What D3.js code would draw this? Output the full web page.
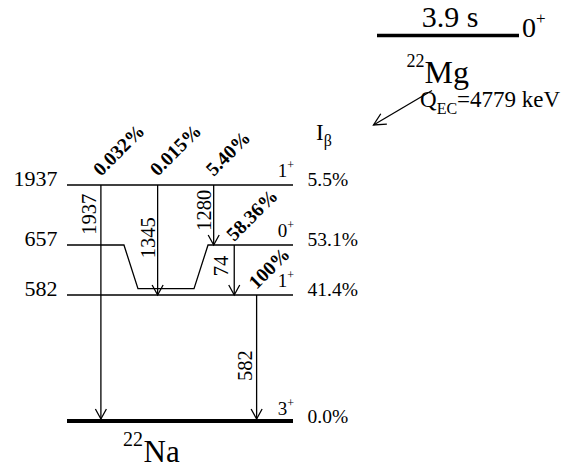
<!DOCTYPE html>
<html>
<head>
<meta charset="utf-8">
<script src="https://cdn.jsdelivr.net/npm/d3@7"></script>
<style>
  html, body { margin: 0; padding: 0; background: #fff; }
  svg { display: block; }
  svg text { font-family: "Liberation Serif", "Times New Roman", Times, serif; }
</style>
</head>
<body>
<svg id="chart" width="583" height="467"></svg>
<script>
// Daughter levels of 22Na: energy (keV), spin, parity, beta feeding
const levelEnergies = [1937, 657, 582, 0];
const levelSpins = ["1", "0", "1", "3"];
const levelParities = ["+", "+", "+", "+"];
const betaFeeding = ["5.5%", "53.1%", "41.4%", "0.0%"];

// Gamma transitions: initial level, final level, energy label, branching
const gammaFrom = [1937, 1937, 1937, 657, 582];
const gammaTo = [0, 582, 657, 582, 0];
const gammaEnergies = ["1937", "1345", "1280", "74", "582"];
const gammaIntensities = ["0.032%", "0.015%", "5.40%", "58.36%", "100%"];

// Parent nucleus
const parentMass = "22";
const parentSymbol = "Mg";
const parentHalfLife = "3.9 s";
const parentSpin = "0";
const parentParity = "+";
const qValue = 4779;
const daughterMass = "22";
const daughterSymbol = "Na";

// ---- layout ----
const FONT = "Liberation Serif";
const svg = d3.select("#chart").attr("font-family", FONT);

// schematic (non-uniform) energy axis
const y = d3.scaleLinear().domain([0, 582, 657, 1937]).range([421, 295, 245, 185]);
// horizontal position along the level lines
const x = d3.scaleLinear().domain([0, 1]).range([67, 293]);

// column of each gamma arrow, where its energy label sits along it, and the label gap
const gammaColumn = [0.150, 0.401, 0.649, 0.740, 0.839];
const gammaLabelAt = [0.125, 0.48, 0.42, 0.42, 0.57];
const gammaLabelGap = [4.5, 3, 2.5, 6, 5];
const intensityLift = [8, 8, 8, 3, 5];

const black = "#000";

function arrowHead(g, tx, ty, ux, uy, len, half, width) {
  const nx = -uy, ny = ux;
  const bx = tx - ux * len, by = ty - uy * len;
  g.append("path")
    .attr("d", d3.line()([[bx + nx * half, by + ny * half], [tx, ty], [bx - nx * half, by - ny * half]]))
    .attr("fill", "none").attr("stroke", black).attr("stroke-width", width)
    .attr("stroke-linejoin", "miter");
}

function addText(parent) {
  return parent.append("text").attr("font-family", FONT).attr("fill", black);
}

const g = svg.append("g");

// level lines
const line = d3.line();
levelEnergies.forEach((e) => {
  let pts;
  if (e === 657) {
    // this level line dips down beneath the 1345 keV arrow
    const dip = y(582) - 6.3;
    pts = [[x(0), y(e)], [x(0.252), y(e)], [x(0.314), dip], [x(0.562), dip], [x(0.624), y(e)], [x(1), y(e)]];
  } else {
    pts = [[x(0), y(e)], [x(1), y(e)]];
  }
  g.append("path")
    .attr("d", line(pts))
    .attr("fill", "none")
    .attr("stroke", black)
    .attr("stroke-width", e === 0 ? 4 : 1.3);
});

// level energy labels (ground level left unlabelled)
levelEnergies.forEach((e) => {
  if (e === 0) return;
  addText(g)
    .attr("x", 57.5).attr("y", y(e) + 1)
    .attr("text-anchor", "end")
    .attr("font-size", 22)
    .text(String(e));
});

// spin-parity labels
levelEnergies.forEach((e, i) => {
  const t = addText(g)
    .attr("x", 294).attr("y", y(e) - (e === 0 ? 6.5 : 8.5))
    .attr("text-anchor", "end")
    .attr("font-size", 19);
  t.append("tspan").text(levelSpins[i]);
  t.append("tspan").attr("font-size", 12).attr("dy", -8).text(levelParities[i]);
});

// beta feeding column
const ib = addText(g).attr("x", 316).attr("y", 140).attr("font-size", 23);
ib.append("tspan").text("I");
ib.append("tspan").attr("font-size", 16).attr("dy", 6).text("β");

levelEnergies.forEach((e, i) => {
  addText(g)
    .attr("x", 307.5).attr("y", y(e) + (e === 0 ? 1.5 : 1))
    .attr("font-size", 19.5)
    .text(betaFeeding[i]);
});

// gamma arrows
gammaFrom.forEach((from, i) => {
  const to = gammaTo[i];
  const gx = x(gammaColumn[i]);
  const y0 = y(from);
  const y1 = to === 0 ? y(0) - 2 : y(to);
  g.append("line")
    .attr("x1", gx).attr("x2", gx)
    .attr("y1", y0).attr("y2", y1)
    .attr("stroke", black).attr("stroke-width", 1.3);
  arrowHead(g, gx, y1, 0, 1, 10, 5.5, 1.3);

  // energy label, written upward alongside the arrow
  const ly = y0 + (y1 - y0) * gammaLabelAt[i];
  addText(g.append("g").attr("transform", `translate(${gx - gammaLabelGap[i]},${ly}) rotate(-90)`))
    .attr("text-anchor", "middle")
    .attr("font-size", 20.5)
    .text(gammaEnergies[i]);

  // branching intensity, bold and slanted at the arrow's origin
  addText(g.append("g").attr("transform", `translate(${gx},${y0 - intensityLift[i]}) rotate(-45)`))
    .attr("font-size", 19.5)
    .attr("font-weight", "bold")
    .text(gammaIntensities[i]);
});

// daughter name
const dn = addText(g).attr("x", 123).attr("y", 461.5);
dn.append("tspan").attr("font-size", 20).attr("dy", -16).text(daughterMass);
dn.append("tspan").attr("font-size", 31).attr("dx", 0.5).attr("dy", 16).text(daughterSymbol);

// parent level
g.append("line")
  .attr("x1", 377).attr("x2", 519)
  .attr("y1", 35.5).attr("y2", 35.5)
  .attr("stroke", black).attr("stroke-width", 3.5);

addText(g)
  .attr("x", 450).attr("y", 26.5)
  .attr("text-anchor", "middle")
  .attr("font-size", 30)
  .text(parentHalfLife);

const ps = addText(g).attr("x", 522).attr("y", 37).attr("font-size", 28);
ps.append("tspan").text(parentSpin);
ps.append("tspan").attr("font-size", 17).attr("dy", -13).text(parentParity);

const pn = addText(g).attr("x", 406.5).attr("y", 83);
pn.append("tspan").attr("font-size", 18).attr("dy", -16).text(parentMass);
pn.append("tspan").attr("font-size", 32).attr("dy", 16).text(parentSymbol);

// decay arrow toward the daughter scheme
{
  const x0 = 432, y0 = 90.5, x1 = 373.5, y1 = 125;
  g.append("line")
    .attr("x1", x0).attr("y1", y0).attr("x2", x1).attr("y2", y1)
    .attr("stroke", black).attr("stroke-width", 1.3);
  const L = Math.hypot(x1 - x0, y1 - y0);
  arrowHead(g, x1, y1, (x1 - x0) / L, (y1 - y0) / L, 12, 6, 1.3);
}

const q = addText(g).attr("x", 420).attr("y", 107).attr("font-size", 23);
q.append("tspan").text("Q");
q.append("tspan").attr("font-size", 16).attr("dy", 7).text("EC");
q.append("tspan").attr("dy", -7).text("=" + qValue + " keV");
</script>
</body>
</html>
